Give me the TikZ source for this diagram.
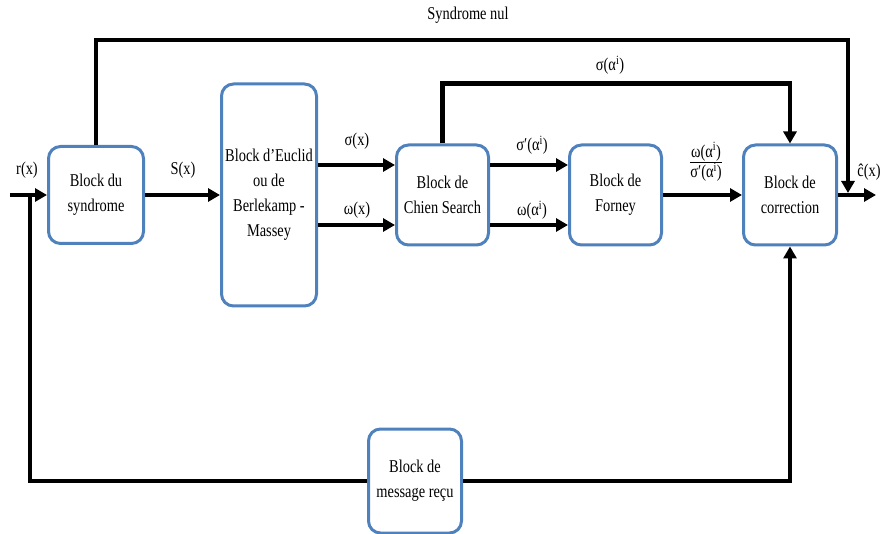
\documentclass[tikz,border=0pt]{standalone}
\usepackage{fontspec}
\setmainfont{Liberation Serif}[FakeStretch=0.8]
\usetikzlibrary{arrows.meta,positioning}
\usepackage{xcolor}
\definecolor{boxblue}{RGB}{79,129,189}

\begin{document}
\begin{tikzpicture}[x=1pt,y=1pt,
    blk/.style={draw=boxblue,fill=white,line width=3pt,rounded corners=12pt,align=center,
      minimum width=93pt,minimum height=100pt,font=\fontsize{18}{25}\selectfont},
    arr/.style={line width=4.5pt,-{Triangle[length=12pt,width=13pt]}},
    ln/.style={line width=4.5pt},
    lbl/.style={font=\fontsize{18}{22}\selectfont}]
        \useasboundingbox (0,0) rectangle (885,533);
        % main chain
        \node[blk,minimum width=95pt,minimum height=97pt] (syn) at (96,338) {Block du\\syndrome};
        \node[blk,minimum width=95pt,minimum height=222pt,right=75pt of syn] (eucl) {Block d’Euclid\\ou de\\Berlekamp -\\Massey};
        \node[blk,minimum width=92pt,right=77pt of eucl] (chien) {Block de\\Chien Search};
        \node[blk,minimum width=92pt,right=78pt of chien] (forney) {Block de\\Forney};
        \node[blk,right=79pt of forney] (corr) {Block de\\correction};
        \node[blk,minimum height=104pt] (msg) at (415,52) {Block de\\message reçu};
        % free ends
        \coordinate (in) at (10,338);
        \coordinate (fb) at (30,338);
        \coordinate (out) at (876,338);
        \coordinate (nul) at (848,493);
        \coordinate (nulend) at (848,340);
        % connectors
        \draw[arr] (in) -- (syn);
        \draw[ln] (fb) |- (msg.west);
        \draw[arr] (msg.east) -| (corr.south);
        \draw[arr] (syn) -- (eucl);
        \draw[arr] ([yshift=30pt]eucl.east) -- ([yshift=30pt]chien.west);
        \draw[arr] ([yshift=-30pt]eucl.east) -- ([yshift=-30pt]chien.west);
        \draw[arr] ([yshift=30pt]chien.east) -- ([yshift=30pt]forney.west);
        \draw[arr] ([yshift=-30pt]chien.east) -- ([yshift=-30pt]forney.west);
        \draw[arr] (forney) -- (corr);
        \draw[arr] (corr) -- (out);
        \draw[arr] (chien.north) -- ++(0,60) -| (corr.north);
        \draw[arr] (syn.north) |- (nul) -- (nulend);
        % labels
        \node[lbl] (lr) at (27,363) {r(x)};
        \node[lbl] (ls) at (183,363) {S(x)};
        \node[lbl] (lsig) at (357,392) {σ(x)};
        \node[lbl] (lom) at (357,323) {ω(x)};
        \node[lbl] (lsigp) at (532,388) {σ′(α\textsuperscript{i})};
        \node[lbl] (lomi) at (532,323) {ω(α\textsuperscript{i})};
        \node[lbl] (lfrac) at (706,370) {\begin{tabular}{@{}c@{}}ω(α\textsuperscript{i})\\[-2pt]\hline σ′(α\textsuperscript{i})\end{tabular}};
        \node[lbl] (lout) at (869,361) {ĉ(x)};
        \node[lbl] (lsigi) at (610,468) {σ(α\textsuperscript{i})};
        \node[lbl] (lnul) at (468,518) {Syndrome nul};
      \end{tikzpicture}
\end{document}
